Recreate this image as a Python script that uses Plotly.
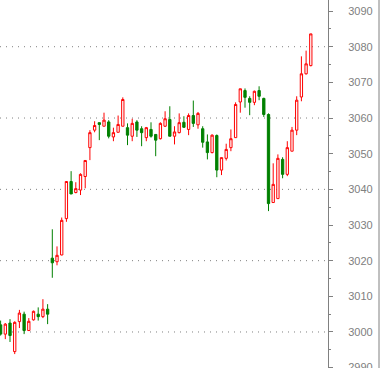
import plotly.graph_objects as go

# bar index (no x labels shown on the chart)
bar_index = list(range(67))

open_ = [3002.0, 2999.4, 3002.5, 2994.5, 3002.9, 3005.0, 3000.4, 3003.4, 3005.0, 3004.3,
         3006.4, 3020.7, 3019.7, 3021.6, 3031.8, 3042.2, 3039.1, 3039.8, 3043.6, 3051.7,
         3056.6, 3058.7, 3057.7, 3058.9, 3054.7, 3056.0, 3057.7, 3057.3, 3054.9, 3058.9,
         3057.0, 3054.5, 3056.8, 3055.4, 3054.2, 3057.7, 3059.6, 3054.9, 3055.9, 3058.8,
         3056.8, 3060.7, 3058.1, 3057.0, 3053.3, 3050.3, 3055.1, 3045.4, 3048.7, 3051.7,
         3054.5, 3064.5, 3067.7, 3065.5, 3064.4, 3067.7, 3065.5, 3061.0, 3036.3, 3037.4,
         3048.4, 3044.2, 3050.7, 3056.6, 3065.9, 3072.4, 3074.7]
high = [3003.2, 3002.5, 3003.6, 3003.0, 3006.2, 3005.7, 3003.9, 3006.0, 3006.9, 3009.2,
        3007.8, 3028.8, 3024.0, 3032.1, 3042.2, 3045.1, 3042.0, 3044.5, 3048.1, 3056.6,
        3059.1, 3058.7, 3061.5, 3059.4, 3057.3, 3060.7, 3065.8, 3058.5, 3059.8, 3059.4,
        3057.7, 3057.5, 3058.8, 3055.4, 3058.8, 3061.9, 3063.3, 3057.7, 3061.3, 3060.5,
        3061.3, 3064.9, 3061.7, 3057.7, 3055.4, 3055.4, 3055.4, 3048.9, 3052.8, 3056.8,
        3064.4, 3068.2, 3068.3, 3066.1, 3067.7, 3068.9, 3065.7, 3061.3, 3047.3, 3049.8,
        3049.0, 3053.5, 3057.5, 3066.1, 3077.3, 3078.9, 3083.6]
low = [2999.0, 2998.0, 2997.2, 2993.8, 3001.1, 2999.4, 3000.3, 3003.2, 3003.2, 3003.9,
       3002.2, 3015.2, 3018.7, 3021.5, 3030.9, 3038.7, 3038.9, 3038.4, 3040.3, 3048.2,
       3056.0, 3053.8, 3057.7, 3054.3, 3053.5, 3056.0, 3057.7, 3052.4, 3053.5, 3054.7,
       3052.1, 3053.5, 3054.5, 3049.3, 3054.0, 3057.5, 3054.9, 3052.6, 3055.7, 3057.3,
       3055.2, 3057.5, 3057.0, 3051.7, 3048.4, 3050.1, 3043.4, 3044.0, 3048.1, 3050.7,
       3054.5, 3061.5, 3062.9, 3060.8, 3063.6, 3065.0, 3060.3, 3033.9, 3036.3, 3037.4,
       3043.1, 3043.7, 3050.7, 3055.2, 3064.7, 3072.2, 3074.5]
close = [2999.4, 3002.2, 2999.0, 3002.7, 3005.3, 3000.4, 3003.0, 3005.8, 3004.3, 3006.4,
         3005.0, 3019.4, 3021.5, 3031.3, 3042.2, 3038.7, 3040.2, 3044.2, 3048.1, 3055.9,
         3057.9, 3058.2, 3059.4, 3054.9, 3055.9, 3058.2, 3065.2, 3055.2, 3058.5, 3056.6,
         3055.9, 3057.3, 3054.9, 3053.8, 3058.5, 3059.8, 3054.9, 3056.1, 3058.7, 3057.4,
         3060.7, 3058.5, 3061.3, 3053.2, 3050.3, 3055.2, 3045.4, 3048.9, 3051.2, 3054.2,
         3063.8, 3068.2, 3065.8, 3064.4, 3067.5, 3066.1, 3061.0, 3036.0, 3041.4, 3048.7,
         3044.2, 3051.7, 3056.6, 3065.0, 3072.4, 3075.2, 3083.6]

grid_levels = [3000, 3020, 3040, 3060, 3080]

RED = "#ff0000"
GREEN = "#008000"
GRAY = "#808080"

fig = go.Figure(go.Candlestick(
    x=bar_index, open=open_, high=high, low=low, close=close,
    increasing=dict(line=dict(color=RED, width=1), fillcolor="white"),
    decreasing=dict(line=dict(color=GREEN, width=1), fillcolor=GREEN),
    whiskerwidth=0, showlegend=False, hoverinfo="skip",
))

for g in grid_levels:
    fig.add_shape(type="line", xref="x domain", x0=0, x1=1, yref="y", y0=g, y1=g,
                  line=dict(color=GRAY, width=1, dash="1px,5px"), layer="below")

# right frame line
fig.add_shape(type="line", xref="paper", x0=1.1555, x1=1.1555, yref="paper", y0=0, y1=1,
              line=dict(color=GRAY, width=1))

fig.update_layout(
    width=380, height=368,
    margin=dict(l=0, r=52, t=0, b=0),
    paper_bgcolor="white", plot_bgcolor="white",
    showlegend=False,
    xaxis=dict(range=[-0.13, 69.66], visible=False, rangeslider=dict(visible=False),
               showgrid=False, zeroline=False),
    yaxis=dict(side="right", range=[2989.9, 3093.1], dtick=10, tick0=0,
               ticks="outside", ticklen=4, tickcolor=GRAY, tickwidth=1,
               showline=True, linecolor=GRAY, linewidth=1,
               showgrid=False, zeroline=False, automargin=False,
               ticklabeloverflow="allow",
               tickfont=dict(family="Liberation Sans, Arial, sans-serif",
                             size=11, color=GRAY),
               ticklabelstandoff=13,
               minor=dict(dtick=5, ticks="outside", ticklen=2, tickcolor=GRAY, showgrid=False)),
)

fig.write_html("out.html", config={"displayModeBar": False},
               post_script="document.body.style.margin='0';document.body.style.overflow='hidden';")
